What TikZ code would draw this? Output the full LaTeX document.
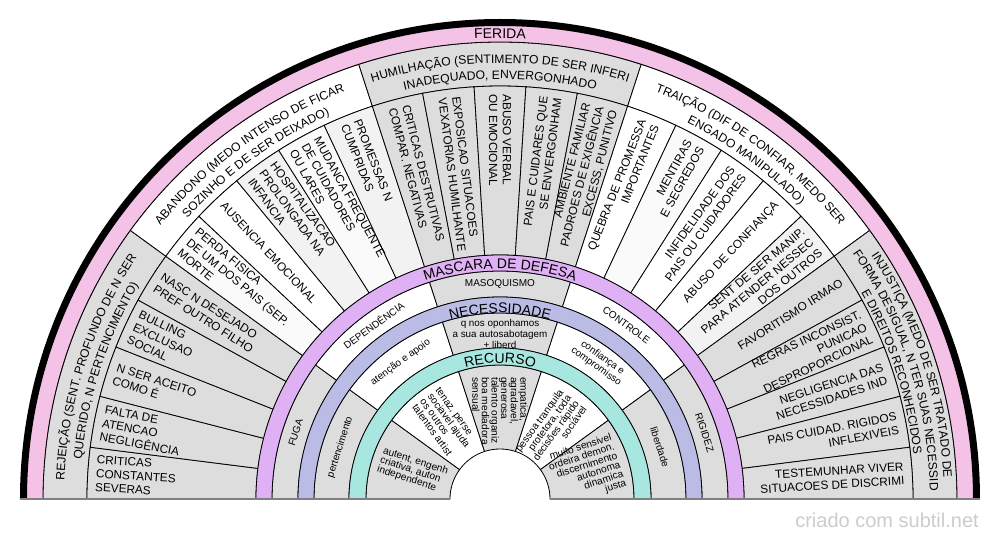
\documentclass[tikz,border=0pt]{standalone}
\usepackage{fontspec}
\setmainfont{Liberation Sans}
\usetikzlibrary{decorations.text}
\definecolor{segray}{HTML}{DDDDDD}
\definecolor{segwhite}{HTML}{FFFFFF}
\definecolor{seglight}{HTML}{F2F2F2}
\definecolor{segpale}{HTML}{FAFAFA}
\definecolor{feridapink}{HTML}{F3C2E6}
\definecolor{mascaralilac}{HTML}{E0B0F5}
\definecolor{necessblue}{HTML}{BABCE6}
\definecolor{recursoteal}{HTML}{A8E6E0}
\newcommand{\subfont}{\fontsize{8.85}{10.35}\selectfont}
\newcommand{\catfont}{\fontsize{9.1}{11}\selectfont}
\newcommand{\titlefont}{\fontsize{10.5}{12}\selectfont}
\newcommand{\maskfont}{\fontsize{7.5}{8}\selectfont}
\newcommand{\resfont}{\fontsize{7.6}{7.2}\selectfont}
\newcommand{\ringpart}[5]{\filldraw[fill=#5, draw=black, line width=0.6pt] (#3:#1) arc (#3:#4:#1) -- (#4:#2) arc (#4:#3:#2) -- cycle;}
\tikzstyle{inlabel} = [font=\subfont, inner sep=0pt, anchor=west, align=left]
\tikzstyle{outlabel} = [font=\subfont, inner sep=0pt, anchor=east, align=right]
\tikzstyle{resin} = [font=\resfont, inner sep=0pt, anchor=west, align=left]
\tikzstyle{resout} = [font=\resfont, inner sep=0pt, anchor=east, align=right]
\tikzstyle{masklabel} = [font=\maskfont, inner sep=0pt, align=center]
\tikzstyle{curved} = [decorate, decoration={text along path, text align=center}]

\begin{document}
\begin{tikzpicture}[x=0.75pt, y=0.75pt]
    \useasboundingbox (-500,-41) rectangle (500,499);

    % Ferida: categories
    \ringpart{413}{457}{180}{144}{segray}
    \ringpart{413}{457}{144}{108}{segwhite}
    \ringpart{413}{457}{108}{72}{segray}
    \ringpart{413}{457}{72}{36}{segwhite}
    \ringpart{413}{457}{36}{0}{segray}

    % Ferida: causes
    \ringpart{244}{413}{180}{172.8}{segray}
    \ringpart{244}{413}{172.8}{165.6}{segray}
    \ringpart{244}{413}{165.6}{158.4}{segray}
    \ringpart{244}{413}{158.4}{151.2}{segray}
    \ringpart{244}{413}{151.2}{144}{segray}
    \ringpart{244}{413}{144}{136.8}{segpale}
    \ringpart{244}{413}{136.8}{129.6}{segwhite}
    \ringpart{244}{413}{129.6}{122.4}{seglight}
    \ringpart{244}{413}{122.4}{115.2}{segpale}
    \ringpart{244}{413}{115.2}{108}{seglight}
    \ringpart{244}{413}{108}{100.8}{segray}
    \ringpart{244}{413}{100.8}{93.6}{segray}
    \ringpart{244}{413}{93.6}{86.4}{segray}
    \ringpart{244}{413}{86.4}{79.2}{segray}
    \ringpart{244}{413}{79.2}{72}{segray}
    \ringpart{244}{413}{72}{64.8}{segwhite}
    \ringpart{244}{413}{64.8}{57.6}{segpale}
    \ringpart{244}{413}{57.6}{50.4}{segwhite}
    \ringpart{244}{413}{50.4}{43.2}{segwhite}
    \ringpart{244}{413}{43.2}{36}{seglight}
    \ringpart{244}{413}{36}{28.8}{segray}
    \ringpart{244}{413}{28.8}{21.6}{segray}
    \ringpart{244}{413}{21.6}{14.4}{segray}
    \ringpart{244}{413}{14.4}{7.2}{segray}
    \ringpart{244}{413}{7.2}{0}{segray}

    % Mascara, necessidade, recurso
    \ringpart{202}{228}{180}{144}{segray}
    \ringpart{202}{228}{144}{108}{segwhite}
    \ringpart{202}{228}{108}{72}{segray}
    \ringpart{202}{228}{72}{36}{segwhite}
    \ringpart{202}{228}{36}{0}{segray}
    \ringpart{151}{186}{180}{144}{segray}
    \ringpart{151}{186}{144}{108}{segwhite}
    \ringpart{151}{186}{108}{72}{segray}
    \ringpart{151}{186}{72}{36}{segwhite}
    \ringpart{151}{186}{36}{0}{segray}
    \ringpart{50}{134}{180}{144}{segray}
    \ringpart{50}{134}{144}{108}{segwhite}
    \ringpart{50}{134}{108}{72}{segray}
    \ringpart{50}{134}{72}{36}{segwhite}
    \ringpart{50}{134}{36}{0}{segray}

    % Category texts
    \path [curved, decoration={text={|\catfont|REJEIÇÃO (SENT. PROFUNDO DE N SER}}] (190:436) arc (190:134:436);
    \path [curved, decoration={text={|\catfont|QUERIDO, N PERTENCIMENTO)}}] (190:420) arc (190:134:420);
    \path [curved, decoration={text={|\catfont|ABANDONO (MEDO INTENSO DE FICAR}}] (154:436) arc (154:98:436);
    \path [curved, decoration={text={|\catfont|SOZINHO E DE SER DEIXADO)}}] (154:420) arc (154:98:420);
    \path [curved, decoration={text={|\catfont|HUMILHAÇÃO (SENTIMENTO DE SER INFERI}}] (118:436) arc (118:62:436);
    \path [curved, decoration={text={|\catfont|INADEQUADO, ENVERGONHADO}}] (118:420) arc (118:62:420);
    \path [curved, decoration={text={|\catfont|TRAIÇÃO (DIF DE CONFIAR, MEDO SER}}] (82:436) arc (82:26:436);
    \path [curved, decoration={text={|\catfont|ENGADO MANIPULADO)}}] (82:420) arc (82:26:420);
    \path [curved, decoration={text={|\catfont|INJUSTIÇA (MEDO DE SER TRATADO DE}}] (46:444) arc (46:-10:444);
    \path [curved, decoration={text={|\catfont|FORMA DESIGUAL, N TER SUAS NECESSID}}] (46:430) arc (46:-10:430);
    \path [curved, decoration={text={|\catfont|E DIREITOS RECONHECIDOS}}] (46:416) arc (46:-10:416);

    % Cause labels
    \node (rej1) [inlabel, rotate=-3.6] at (176.4:405) {CRITICAS\\CONSTANTES\\SEVERAS};
    \node (rej2) [inlabel, rotate=-10.8] at (169.2:405) {FALTA DE\\ATENCAO\\NEGLIGÊNCIA};
    \node (rej3) [inlabel, rotate=-18] at (162:405) {N SER ACEITO\\COMO É};
    \node (rej4) [inlabel, rotate=-25.2] at (154.8:405) {BULLING\\EXCLUSAO\\SOCIAL};
    \node (rej5) [inlabel, rotate=-32.4] at (147.6:405) {NASC N DESEJADO\\PREF OUTRO FILHO};
    \node (aba1) [inlabel, rotate=-39.6] at (140.4:405) {PERDA FISICA\\DE UM DOS PAIS (SEP.\\MORTE};
    \node (aba2) [inlabel, rotate=-46.8] at (133.2:405) {AUSENCIA EMOCIONAL};
    \node (aba3) [inlabel, rotate=-54] at (126:405) {HOSPITALIZACAO\\PROLONGADA NA\\INFANCIA};
    \node (aba4) [inlabel, rotate=-61.2] at (118.8:405) {MUDANCA FREQUENTE\\DE CUIDADORES\\OU LARES};
    \node (aba5) [inlabel, rotate=-68.4] at (111.6:405) {PROMESSAS N\\CUMPRIDAS};
    \node (hum1) [inlabel, rotate=-75.6] at (104.4:405) {CRITICAS DESTRUTIVAS\\COMPAR. NEGATIVAS};
    \node (hum2) [inlabel, rotate=-82.8] at (97.2:405) {EXPOSICAO SITUACOES\\VEXATORIAS HUMILHANTE};
    \node (hum3) [inlabel, rotate=-90] at (90:405) {ABUSO VERBAL\\OU EMOCIONAL};
    \node (hum4) [outlabel, rotate=82.8] at (82.8:405) {PAIS E CUIDARES QUE\\SE ENVERGONHAM};
    \node (hum5) [outlabel, rotate=75.6] at (75.6:405) {AMBIENTE FAMILIAR\\PADROES DE EXIGÊNCIA\\EXCESS, PUNITIVO};
    \node (tra1) [outlabel, rotate=68.4] at (68.4:405) {QUEBRA DE PROMESSA\\IMPORTANTES};
    \node (tra2) [outlabel, rotate=61.2] at (61.2:405) {MENTIRAS\\E SEGREDOS};
    \node (tra3) [outlabel, rotate=54] at (54:405) {INFIDELIDADE DOS\\PAIS OU CUIDADORES};
    \node (tra4) [outlabel, rotate=46.8] at (46.8:405) {ABUSO DE CONFIANÇA};
    \node (tra5) [outlabel, rotate=39.6] at (39.6:405) {SENT DE SER MANIP.\\PARA ATENDER NESSEC\\DOS OUTROS};
    \node (inj1) [outlabel, rotate=32.4] at (32.4:405) {FAVORITISMO IRMAO};
    \node (inj2) [outlabel, rotate=25.2] at (25.2:405) {REGRAS INCONSIST.\\PUNICAO\\DESPROPORCIONAL};
    \node (inj3) [outlabel, rotate=18] at (18:405) {NEGLIGENCIA DAS\\NECESSIDADES IND};
    \node (inj4) [outlabel, rotate=10.8] at (10.8:405) {PAIS CUIDAD. RIGIDOS\\INFLEXIVEIS};
    \node (inj5) [outlabel, rotate=3.6] at (3.6:405) {TESTEMUNHAR VIVER\\SITUACOES DE DISCRIMI};

    % Mask and need labels
    \node (fuga) [masklabel, rotate=72] at (162:215) {FUGA};
    \node (dependencia) [masklabel, rotate=36] at (126:215) {DEPENDÊNCIA};
    \node (masoquismo) [masklabel] at (90:215) {MASOQUISMO};
    \node (controle) [masklabel, rotate=-36] at (54:215) {CONTROLE};
    \node (rigidez) [masklabel, rotate=-72] at (18:215) {RIGIDEZ};
    \node (pertencimento) [masklabel, rotate=72] at (162:168) {pertencimento};
    \node (atencao) [masklabel, rotate=36] at (126:169) {atenção e apoio};
    \node (oponhamos) [masklabel, font=\fontsize{7.4}{8}\selectfont] at (90:165) {q nos oponhamos\\a sua autosabotagem\\+ liberd};
    \node (confianca) [masklabel, rotate=-36] at (54:169) {confiança e\\compromisso};
    \node (liberdade) [masklabel, rotate=-72] at (18:168) {liberdade};

    % Resource labels
    \node (res1) [resin, rotate=-18] at (162:126) {autent, engenh\\criativa, auton\\independente};
    \node (res2) [resin, rotate=-54] at (126:126) {tenaz, perse\\sociavel ajuda\\os outros\\talentos artist};
    \node (res3) [resin, rotate=-90] at (90:122) {empatica,\\agradavel,\\generosa\\talento organiz\\boa mediadora\\sensual};
    \node (res4) [resout, rotate=54] at (54:124) {pessoa tranquila\\protetora, toda\\decisões rápido\\sociável};
    \node (res5) [resout, rotate=18] at (18:125) {muito sensivel\\ordeira demon.\\discernimento\\autonoma\\dinamica\\justa};

    % Title rings
    \ringpart{457}{476}{180}{0}{feridapink}
    \ringpart{228}{244}{180}{0}{mascaralilac}
    \ringpart{186}{202}{180}{0}{necessblue}
    \ringpart{134}{151}{180}{0}{recursoteal}
    \path [curved, decoration={text={|\titlefont|FERIDA}}] (110:461) arc (110:70:461);
    \path [curved, decoration={text={|\titlefont|MASCARA DE DEFESA}}] (130:230.5) arc (130:50:230.5);
    \path [curved, decoration={text={|\titlefont|NECESSIDADE}}] (130:186) arc (130:50:186);
    \path [curved, decoration={text={|\titlefont|RECURSO}}] (130:136) arc (130:50:136);

    % Outline and base
    \draw [line width=5.25pt] (180:476.5) arc (180:0:476.5);
    \draw [gray, line width=1.1pt] (-480,0) -- (-50,0);
    \draw [gray, line width=1.1pt] (50,0) -- (480,0);

    \node (credit) [anchor=base east, inner sep=0pt, font=\fontsize{15}{15}\selectfont, text=gray!40] at (479,-28) {criado com subtil.net};
\end{tikzpicture}
\end{document}
